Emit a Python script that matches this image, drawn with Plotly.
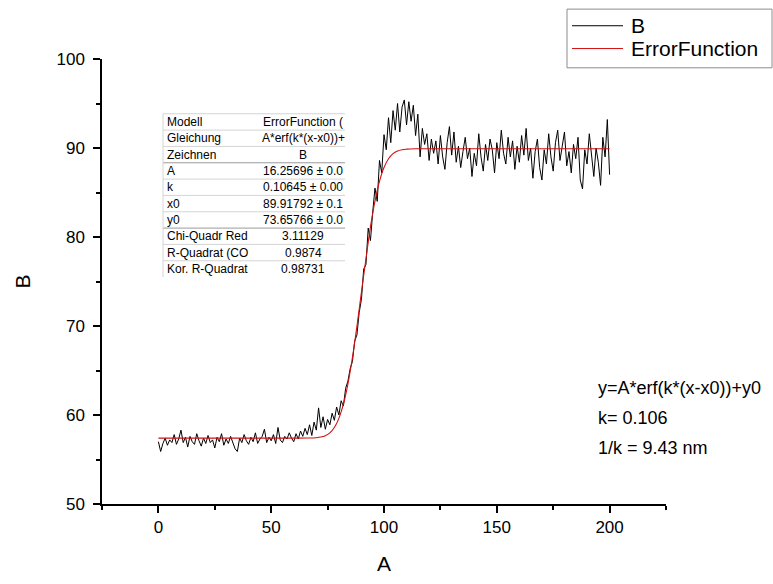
import plotly.graph_objects as go

# ---- data ----
b_x = list(range(0, 201))
b_y = [
    57.0, 55.9, 56.8, 57.4, 56.6, 57.2, 56.9, 57.8, 56.7, 57.3,
    58.3, 56.9, 57.5, 56.4, 57.6, 57.0, 56.7, 57.9, 57.1, 56.5,
    57.4, 56.8, 57.7, 56.9, 57.2, 56.3, 57.5, 57.0, 57.9, 56.6,
    57.3, 56.8, 57.6, 57.0, 56.2, 55.9, 57.4, 56.9, 57.8, 57.1,
    56.7, 57.5, 57.0, 58.0, 56.8, 57.3, 57.6, 58.4, 56.9, 57.5,
    57.1, 57.8, 56.8, 58.6, 57.2, 56.9, 57.6, 57.3, 58.0, 57.4,
    57.0, 57.9, 57.3, 58.2, 57.6, 58.5, 57.8, 58.9, 57.7, 59.2,
    58.3, 60.8, 58.6, 59.8, 58.4, 59.5, 58.9, 60.2, 59.4, 60.9,
    60.0, 61.6, 61.0, 63.0, 63.8, 65.2, 66.0, 68.3, 69.0, 71.5,
    73.0, 76.4, 76.9, 81.0, 79.6, 82.8, 85.5, 84.0, 88.6, 87.2,
    91.5, 89.8, 93.4, 90.6, 94.2, 92.0, 95.0, 91.8, 94.6, 95.4,
    92.6, 95.2, 93.0, 94.8, 91.4, 93.8, 89.0, 92.2, 90.4, 91.6,
    88.6, 91.0, 89.4, 90.8, 88.2, 91.4, 89.0, 87.6, 90.6, 92.4,
    89.2, 91.8, 88.4, 90.2, 87.8, 89.6, 91.2, 88.8, 90.0, 86.8,
    89.4, 88.0, 91.6, 89.0, 87.4, 90.4, 88.6, 91.0, 89.8, 87.2,
    90.6, 88.8, 92.0, 89.4, 88.2, 91.2, 89.0, 90.8, 87.6, 90.2,
    88.4, 91.4, 89.2, 92.2, 88.6, 90.0, 86.6, 89.6, 91.0, 87.8,
    86.4, 89.8, 88.2, 91.6, 89.0, 87.4, 90.6, 92.0, 88.6, 90.2,
    91.8, 88.0, 89.6, 87.2, 90.4, 88.8, 91.2, 86.4, 85.4, 89.8,
    88.2, 91.6, 89.4, 86.8, 90.0, 88.4, 85.8, 91.2, 89.0, 93.2,
    87.0,
]

fit_x = [0, 20, 40, 60, 66, 70, 72, 74, 76, 78, 80, 82, 84, 86, 88, 90,
         92, 94, 96, 98, 100, 102, 104, 106, 108, 110, 114, 130, 160, 200]
fit_y = [57.40, 57.40, 57.40, 57.40, 57.41, 57.45, 57.52, 57.67, 57.99, 58.59,
         59.62, 61.21, 63.48, 66.44, 69.97, 73.82, 77.55, 81.14, 84.04, 86.26,
         87.80, 88.79, 89.36, 89.66, 89.81, 89.87, 89.91, 89.91, 89.91, 89.91]

series_names = ["B", "ErrorFunction"]
series_colors = ["black", "#d01010"]

table_labels = ["Modell", "Gleichung", "Zeichnen", "A", "k", "x0", "y0",
                "Chi-Quadr Red", "R-Quadrat (CO", "Kor. R-Quadrat"]
table_values = ["ErrorFunction (", "A*erf(k*(x-x0))+", "B", "16.25696 ± 0.0",
                "0.10645 ± 0.00", "89.91792 ± 0.1", "73.65766 ± 0.0",
                "3.11129", "0.9874", "0.98731"]

note_lines = ["y=A*erf(k*(x-x0))+y0", "k= 0.106", "1/k = 9.43 nm"]

x_range = [-25, 225]
y_range = [50, 100]

# ---- layout geometry (pixels) ----
W, H = 773, 584
L, R, T, B = 102, 107, 59, 70
PW, PH = W - L - R, H - T - B


def px(x):
    return (x - L) / PW


def py(y):
    return (H - B - y) / PH


FONT = "Liberation Sans, Arial, sans-serif"

fig = go.Figure()
fig.add_trace(go.Scatter(x=b_x, y=b_y, mode="lines", name=series_names[0],
                         line=dict(color=series_colors[0], width=1)))
fig.add_trace(go.Scatter(x=fit_x, y=fit_y, mode="lines", name=series_names[1],
                         line=dict(color=series_colors[1], width=1.1, shape="spline")))

axis_common = dict(
    showline=True, linecolor="black", linewidth=1.5,
    ticks="outside", ticklen=7, tickwidth=1.5, tickcolor="black",
    showgrid=False, zeroline=False, mirror=False,
    tickfont=dict(family=FONT, size=17, color="black"),
)

fig.update_xaxes(range=x_range, tick0=0, dtick=50,
                 minor=dict(dtick=25, tick0=0, ticks="outside", ticklen=4,
                            tickwidth=1.5, tickcolor="black"),
                 title=dict(text="A", font=dict(family=FONT, size=21, color="black"),
                            standoff=20),
                 **axis_common)
fig.update_yaxes(range=y_range, tick0=50, dtick=10,
                 minor=dict(dtick=5, tick0=50, ticks="outside", ticklen=4,
                            tickwidth=1.5, tickcolor="black"),
                 ticklabelstandoff=5,
                 title=dict(text="B", font=dict(family=FONT, size=21, color="black"),
                            standoff=20),
                 **axis_common)

shapes = []
annotations = []

# ---- parameter table ----
t_left, t_right = 163, 345
t_top = 115
row_h = 16.7
val_cx = 303
for i, (lab, val) in enumerate(zip(table_labels, table_values)):
    yc = t_top + row_h * (i + 0.5)
    annotations.append(dict(xref="paper", yref="paper", x=px(t_left + 2), y=py(yc),
                            text=lab, showarrow=False, xanchor="left", yanchor="middle",
                            font=dict(family=FONT, size=12, color="black")))
    annotations.append(dict(xref="paper", yref="paper", x=px(val_cx), y=py(yc),
                            text=val, showarrow=False, xanchor="center", yanchor="middle",
                            font=dict(family=FONT, size=12, color="black")))
    if i < len(table_labels) - 1:
        yl = t_top + row_h * (i + 1)
        dark = i in (2, 6)
        shapes.append(dict(type="line", xref="paper", yref="paper",
                           x0=px(t_left), x1=px(t_right), y0=py(yl), y1=py(yl),
                           line=dict(color="#9a9a9a" if dark else "#d4d4d4", width=1)))
t_bottom = t_top + row_h * len(table_labels)
shapes.append(dict(type="line", xref="paper", yref="paper",
                   x0=px(t_left), x1=px(t_right), y0=py(t_top), y1=py(t_top),
                   line=dict(color="#d4d4d4", width=1)))
shapes.append(dict(type="line", xref="paper", yref="paper",
                   x0=px(t_left), x1=px(t_left), y0=py(t_top), y1=py(t_bottom),
                   line=dict(color="#d4d4d4", width=1)))

# ---- legend box (drawn to match the reference's compact layout) ----
lg_left, lg_right, lg_top, lg_bottom = 567, 772, 8, 68
shapes.append(dict(type="rect", xref="paper", yref="paper", layer="above",
                   x0=px(lg_left), x1=px(lg_right), y0=py(lg_bottom), y1=py(lg_top),
                   line=dict(color="#8c8c8c", width=1), fillcolor="white"))
for i, (name, col) in enumerate(zip(series_names, series_colors)):
    yc = 25 + 23.3 * i
    shapes.append(dict(type="line", xref="paper", yref="paper", layer="above",
                       x0=px(572), x1=px(623), y0=py(yc), y1=py(yc),
                       line=dict(color=col, width=1)))
    annotations.append(dict(xref="paper", yref="paper", x=px(629), y=py(yc),
                            text=name, showarrow=False, xanchor="left", yanchor="middle",
                            font=dict(family=FONT, size=21, color="black")))

# ---- fit notes ----
for i, line in enumerate(note_lines):
    annotations.append(dict(xref="paper", yref="paper", x=px(596), y=py(395 + 31 * i),
                            text=line, showarrow=False, xanchor="left", yanchor="middle",
                            font=dict(family=FONT, size=18, color="black")))

fig.update_layout(
    width=W, height=H,
    margin=dict(l=L, r=R, t=T, b=B),
    paper_bgcolor="white", plot_bgcolor="white",
    showlegend=False,
    shapes=shapes,
    annotations=annotations,
)

fig.write_html(
    "out.html",
    config={"displayModeBar": False},
    post_script="document.body.style.margin='0px';document.body.style.overflow='hidden';",
)
